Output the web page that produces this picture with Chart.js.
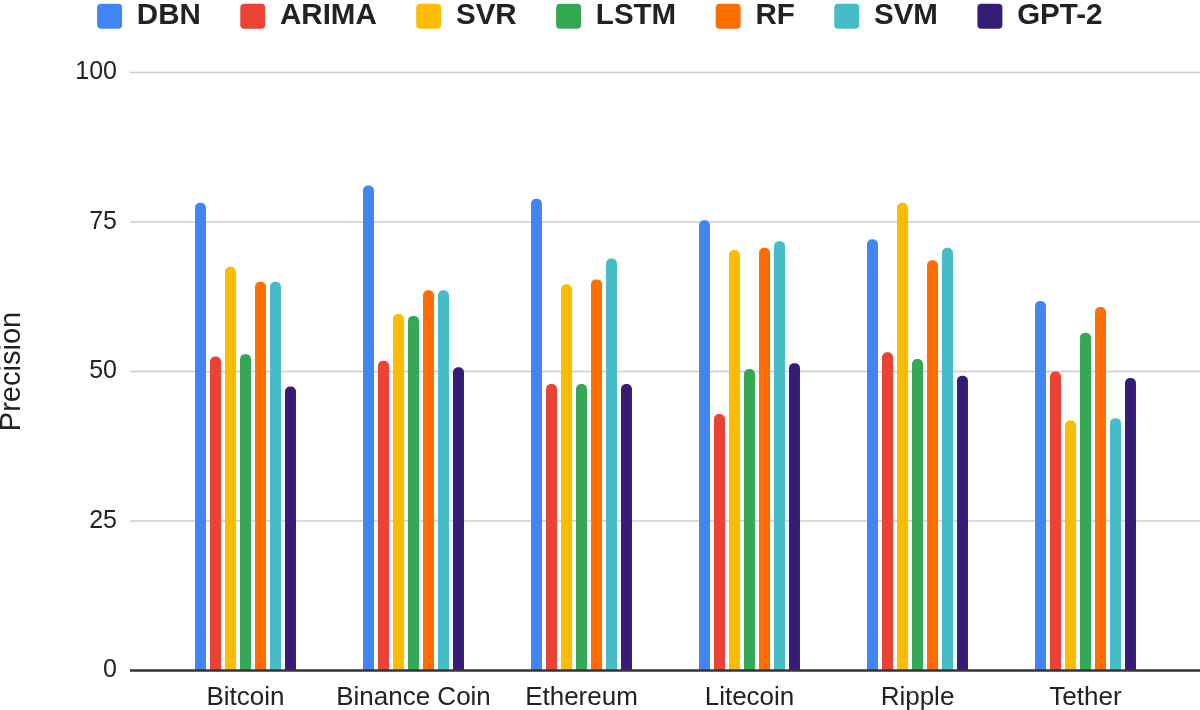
<!DOCTYPE html>
<html>
<head>
<meta charset="utf-8">
<title>Precision</title>
<script src="https://cdn.jsdelivr.net/npm/chart.js@4"></script>
<style>
  html, body { margin: 0; padding: 0; background: #fff; }
  canvas { display: block; }
</style>
</head>
<body>
<canvas id="precisionChart" width="1200" height="710"></canvas>
<script>
// categorias e valores
const moedas = ['Bitcoin', 'Binance Coin', 'Ethereum', 'Litecoin', 'Ripple', 'Tether'];
const dbn   = [78.2, 81.1, 78.9, 75.3, 72.1, 61.8];
const arima = [52.5, 51.8, 47.9, 42.9, 53.2, 50.0];
const svr   = [67.5, 59.6, 64.6, 70.3, 78.2, 41.8];
const lstm  = [52.9, 59.3, 47.9, 50.4, 52.1, 56.5];
const rf    = [65.0, 63.6, 65.4, 70.7, 68.6, 60.8];
const svm   = [65.0, 63.6, 68.9, 71.8, 70.7, 42.2];
const gpt2  = [47.5, 50.7, 47.9, 51.4, 49.3, 48.9];
const yTicks = [0, 25, 50, 75, 100];

const series = [
  { label: 'DBN',   data: dbn,   cor: '#4285f4' },
  { label: 'ARIMA', data: arima, cor: '#ea4335' },
  { label: 'SVR',   data: svr,   cor: '#fbbc04' },
  { label: 'LSTM',  data: lstm,  cor: '#34a853' },
  { label: 'RF',    data: rf,    cor: '#ff6d01' },
  { label: 'SVM',   data: svm,   cor: '#46bdc6' },
  { label: 'GPT-2', data: gpt2,  cor: '#351c75' }
];

const fonte = "'Liberation Sans', Arial, sans-serif";

/* legenda mais alta + linhas de grade mais largas que a area do grafico */
const gradePlugin = {
  id: 'grade',
  beforeLayout(chart) {
    const legend = chart.legend;
    if (legend && !legend._fitPatched) {
      const fit = legend.fit;
      legend.fit = function () {
        fit.call(this);
        this.height += 31.5;
      };
      legend._fitPatched = true;
    }
  },
  beforeDatasetsDraw(chart) {
    const { ctx } = chart;
    const y = chart.scales.y;
    ctx.save();
    ctx.strokeStyle = '#cccccc';
    ctx.lineWidth = 1.5;
    yTicks.forEach(v => {
      if (v === 0) return;
      const py = y.getPixelForValue(v);
      ctx.beginPath();
      ctx.moveTo(130, py);
      ctx.lineTo(chart.width, py);
      ctx.stroke();
    });
    ctx.restore();
  },
  afterDatasetsDraw(chart) {
    const { ctx } = chart;
    const py = chart.scales.y.getPixelForValue(0);
    ctx.save();
    ctx.strokeStyle = '#333333';
    ctx.lineWidth = 2.5;
    ctx.beginPath();
    ctx.moveTo(130, py);
    ctx.lineTo(chart.width, py);
    ctx.stroke();
    ctx.restore();
  }
};

const ctx = document.getElementById('precisionChart').getContext('2d');
const precisionChart = new Chart(ctx, {
  type: 'bar',
  data: {
    labels: moedas,
    datasets: series.map(s => ({
      label: s.label,
      data: s.data,
      backgroundColor: s.cor,
      borderWidth: 0,
      borderRadius: 5,
      borderSkipped: 'start',
      categoryPercentage: 0.625,
      barPercentage: 0.73
    }))
  },
  options: {
    responsive: false,
    animation: false,
    layout: { padding: { top: -38, right: 30.5, bottom: 0, left: 30 } },
    scales: {
      y: {
        min: 0,
        max: 100,
        afterFit(scale) {
          scale.width = 131.5;
          scale.paddingTop = 0;
          scale.paddingBottom = 0;
        },
        afterBuildTicks(scale) { scale.ticks = yTicks.map(v => ({ value: v })); },
        grid: { display: false, drawTicks: false },
        border: { display: false },
        ticks: {
          padding: 44.5,
          color: '#222',
          font: { family: fonte, size: 25 }
        },
        title: {
          display: true,
          text: 'Precision',
          color: '#222',
          padding: { top: -30, bottom: 0 },
          font: { family: fonte, size: 29, lineHeight: 0.8 }
        }
      },
      x: {
        afterFit(scale) { scale.height = 39.5; },
        grid: { display: false, drawTicks: false },
        border: { display: false },
        ticks: {
          padding: 12,
          color: '#222',
          font: { family: fonte, size: 26 }
        }
      }
    },
    plugins: {
      legend: {
        display: true,
        position: 'top',
        labels: {
          boxWidth: 25,
          boxHeight: 25,
          useBorderRadius: true,
          borderRadius: 4,
          padding: 39.5,
          color: '#222',
          font: { family: fonte, size: 29.5, weight: 'bold' }
        }
      },
      tooltip: { enabled: false }
    }
  },
  plugins: [gradePlugin]
});
</script>
</body>
</html>
